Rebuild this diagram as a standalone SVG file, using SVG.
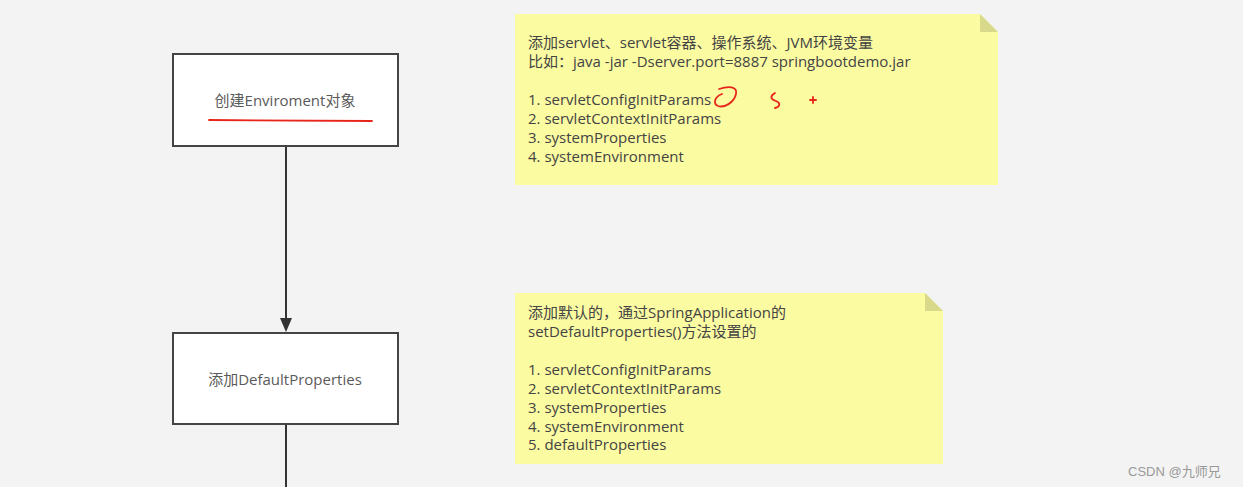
<svg xmlns="http://www.w3.org/2000/svg" width="1243" height="487" viewBox="0 0 1243 487">
<style>
.box{fill:#fff;stroke:#444;stroke-width:2}
.lbl{font-family:"Open Sans","Noto Sans CJK SC",sans-serif;font-size:15px;fill:#5a5a5a;text-anchor:middle}
.note{fill:#fbfba2}
.fold{fill:#d9d98c}
.nt{font-family:"Open Sans","Noto Sans CJK SC",sans-serif;font-size:15px;fill:#444}
.edge{stroke:#333;stroke-width:2;fill:none}
.red{stroke:#e8251a;stroke-width:1.8;fill:none;stroke-linecap:round}
</style>
<rect width="1243" height="487" fill="#f3f3f3"/>
<g id="connectors">
<line class="edge" x1="286" y1="146" x2="286" y2="318"/>
<path d="M280,318 L292,318 L286,332 Z" fill="#333"/>
<line class="edge" x1="286" y1="424" x2="286" y2="487"/>
</g>
<g id="node-env">
<rect class="box" x="173" y="54" width="225" height="92"/>
<text class="lbl" x="285" y="106">创建Enviroment对象</text>
<path class="red" d="M209,120 L372,121"/>
</g>
<g id="node-default">
<rect class="box" x="173" y="333" width="225" height="91"/>
<text class="lbl" x="285" y="385">添加DefaultProperties</text>
</g>
<g id="note1">
<path class="note" d="M515,14 L980,14 L998,32 L998,185 L515,185 Z"/>
<path class="fold" d="M980,14 L998,32 L980,32 Z"/>
<text class="nt" x="528" y="48">添加servlet、servlet容器、操作系统、JVM环境变量</text>
<text class="nt" x="528" y="67">比如：java -jar -Dserver.port=8887 springbootdemo.jar</text>
<text class="nt" x="528" y="105">1. servletConfigInitParams</text>
<text class="nt" x="528" y="124">2. servletContextInitParams</text>
<text class="nt" x="528" y="143">3. systemProperties</text>
<text class="nt" x="528" y="162">4. systemEnvironment</text>
<path class="red" d="M719,89 C728,86 738,86 736,94 C734,103 724,108 718,106 C713,104 714,97 722,94"/>
<path class="red" d="M775,93 C770,96 770,99 776,101 C781,103 780,107 775,108"/>
<path class="red" d="M810,100 L816,100 M813,97 L813,103"/>
</g>
<g id="note2">
<path class="note" d="M515,293 L925,293 L943,311 L943,464 L515,464 Z"/>
<path class="fold" d="M925,293 L943,311 L925,311 Z"/>
<text class="nt" x="528" y="318">添加默认的，通过SpringApplication的</text>
<text class="nt" x="528" y="337">setDefaultProperties()方法设置的</text>
<text class="nt" x="528" y="375">1. servletConfigInitParams</text>
<text class="nt" x="528" y="394">2. servletContextInitParams</text>
<text class="nt" x="528" y="413">3. systemProperties</text>
<text class="nt" x="528" y="432">4. systemEnvironment</text>
<text class="nt" x="528" y="450">5. defaultProperties</text>
</g>
<text x="1128" y="476" font-family="Liberation Sans,'Noto Sans CJK SC',sans-serif" font-size="13" fill="#999">CSDN @九师兄</text>
</svg>
